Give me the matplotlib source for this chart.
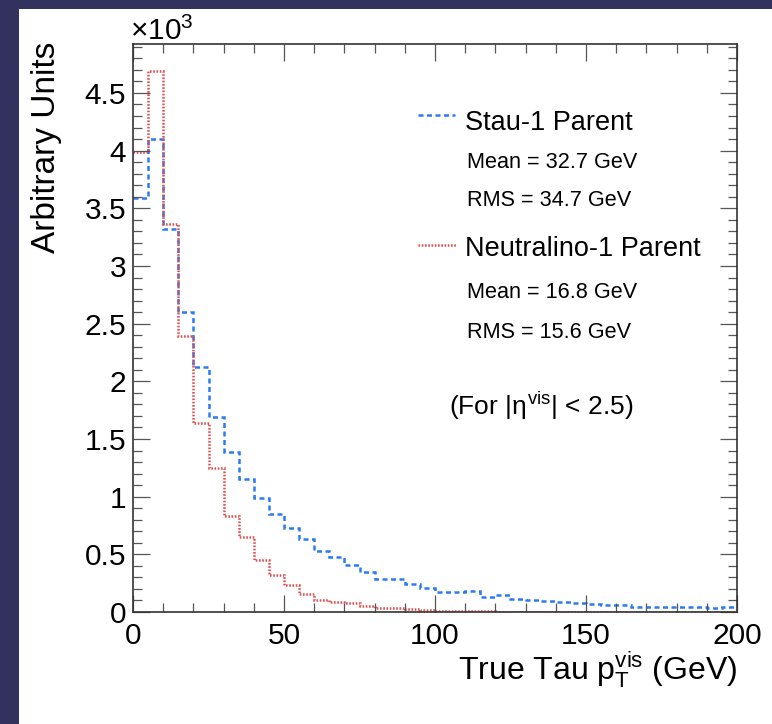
import numpy as np
import matplotlib
matplotlib.use("Agg")
import matplotlib.pyplot as plt
from matplotlib.ticker import MultipleLocator, FuncFormatter
from matplotlib.lines import Line2D
from matplotlib.patches import Rectangle

plt.rcParams['font.family'] = ['Liberation Sans', 'DejaVu Sans']
plt.rcParams['mathtext.fontset'] = 'custom'
plt.rcParams['mathtext.rm'] = 'Liberation Sans'
plt.rcParams['mathtext.it'] = 'Liberation Sans'
plt.rcParams['mathtext.bf'] = 'Liberation Sans:bold'

# ---- data (units of 10^3 entries per 5 GeV bin) ----
bin_edges = np.arange(0, 205, 5)
stau_values = [3.59, 4.10, 3.32, 2.60, 2.12, 1.69, 1.39, 1.15, 0.99, 0.85,
               0.725, 0.635, 0.53, 0.48, 0.41, 0.35, 0.29, 0.29, 0.245, 0.205,
               0.173, 0.173, 0.185, 0.133, 0.145, 0.115, 0.108, 0.098, 0.09, 0.075,
               0.067, 0.058, 0.058, 0.046, 0.046, 0.046, 0.046, 0.046, 0.032, 0.04]
neut_values = [3.99, 4.69, 3.36, 2.39, 1.64, 1.25, 0.83, 0.65, 0.45, 0.32,
               0.234, 0.155, 0.104, 0.09, 0.078, 0.052, 0.032, 0.032, 0.025, 0.017,
               0.009, 0.008, 0.006, 0.005, 0.004, 0.004, 0.003, 0.003, 0.002, 0.002,
               0.002, 0.001, 0.001, 0.001, 0.001, 0.001, 0.001, 0.0, 0.001, 0.0]
x_ticks = [0, 50, 100, 150, 200]
y_ticks = [0, 0.5, 1, 1.5, 2, 2.5, 3, 3.5, 4, 4.5]
stau_label = "Stau-1 Parent"
neut_label = "Neutralino-1 Parent"
stau_stats = ["Mean = 32.7 GeV", "RMS = 34.7 GeV"]
neut_stats = ["Mean = 16.8 GeV", "RMS = 15.6 GeV"]

W, H = 772, 724
NAVY = '#33325f'
BLUE = '#2a7af5'
RED = '#e24c4c'
BLUE_LS = (0, (2.0, 1.4))
RED_LS = (0, (0.65, 0.65))
LW = 1.8

fig = plt.figure(figsize=(W / 100, H / 100), dpi=100, facecolor=NAVY)
fig.add_artist(Rectangle((19 / W, 0), 1 - 19 / W, (H - 9) / H,
                         transform=fig.transFigure, facecolor='white',
                         edgecolor='none', zorder=0))

def fx(px):
    return px / W

def fy(py):
    return (H - py) / H

ax = fig.add_axes([fx(133), fy(612), fx(737) - fx(133), fy(44) - fy(612)])
ax.set_facecolor('white')

ax.stairs(stau_values, bin_edges, color=BLUE, lw=LW, ls=BLUE_LS, baseline=None)
ax.stairs(neut_values, bin_edges, color=RED, lw=LW, ls=RED_LS, baseline=None)

ax.set_xlim(0, 200)
ax.set_ylim(0, 1.05 * max(neut_values))
ax.set_xticks(x_ticks)
ax.set_yticks(y_ticks)
ax.xaxis.set_minor_locator(MultipleLocator(10))
ax.yaxis.set_minor_locator(MultipleLocator(0.1))
ax.yaxis.set_major_formatter(FuncFormatter(lambda v, p: '%g' % v))
ax.xaxis.set_major_formatter(FuncFormatter(lambda v, p: '%g' % v))
ax.tick_params(which='both', direction='in', top=True, right=True,
               labelsize=21.5, color='#555555', width=0.9)
ax.tick_params(which='major', length=12.5)
ax.tick_params(which='minor', length=6.5)
ax.tick_params(axis='x', which='major', pad=7)
ax.tick_params(axis='y', which='major', pad=5)
for s in ax.spines.values():
    s.set_linewidth(1.2)
    s.set_color('#333333')

# axis titles
fig.text(fx(47), fy(42), "Arbitrary Units", rotation=90, ha='center', va='top',
         fontsize=24)
fig.text(fx(737), fy(680), r"True Tau p$_{\mathrm{T}}^{\mathrm{vis}}$ (GeV)",
         ha='right', va='baseline', fontsize=23)
fig.text(fx(130), fy(40), r"$\times$10$^{3}$", ha='left', va='baseline',
         fontsize=21.5)

# legend
fig.add_artist(Line2D([fx(418), fx(455)], [fy(115), fy(115)], transform=fig.transFigure,
                      color=BLUE, lw=LW, ls=BLUE_LS))
fig.add_artist(Line2D([fx(418), fx(456)], [fy(245), fy(245)], transform=fig.transFigure,
                      color=RED, lw=LW, ls=RED_LS))
fig.text(fx(465), fy(129.5), stau_label, fontsize=19.5, va='baseline')
fig.text(fx(467), fy(168), stau_stats[0], fontsize=15.6, va='baseline')
fig.text(fx(467), fy(206.5), stau_stats[1], fontsize=15.6, va='baseline')
fig.text(fx(465), fy(256.5), neut_label, fontsize=19.5, va='baseline')
fig.text(fx(467), fy(297.5), neut_stats[0], fontsize=15.6, va='baseline')
fig.text(fx(467), fy(337.5), neut_stats[1], fontsize=15.6, va='baseline')
fig.text(fx(449), fy(415), r"(For |$\eta^{\mathrm{vis}}$| < 2.5)", fontsize=19,
         va='baseline')

fig.savefig("out.png", dpi=100, facecolor=NAVY)
